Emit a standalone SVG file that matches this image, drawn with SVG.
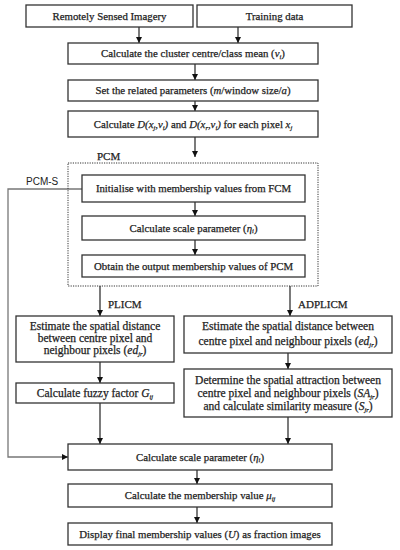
<svg xmlns="http://www.w3.org/2000/svg" width="400" height="550" viewBox="0 0 400 550">
<defs>
<marker id="ah" viewBox="0 0 10 10" refX="10" refY="5" markerWidth="6" markerHeight="6" markerUnits="userSpaceOnUse" orient="auto">
<path d="M0,0 L10,5 L0,10 z" fill="#111"/>
</marker>
<style>
.box{fill:#fff;stroke:#333;stroke-width:1.3}
.t{font-family:"Liberation Serif","Times New Roman",serif;font-size:10.8px;fill:#222;stroke:#222;stroke-width:0.25;text-anchor:middle}
.b{font-size:11.5px}
.l{font-family:"Liberation Serif","Times New Roman",serif;font-size:11px;fill:#222;stroke:#222;stroke-width:0.25}
.s{font-family:"Liberation Sans",Arial,sans-serif;font-size:10px;fill:#222}
.i{font-style:italic}
.sub{font-style:italic;font-size:6.5px}
.c{fill:none;stroke:#222;stroke-width:1.2}
.g{fill:none;stroke:#777;stroke-width:1.3}
</style>
</defs>
<rect width="400" height="550" fill="#fff"/>
<g id="connectors">
<line class="c" x1="139" y1="27" x2="139" y2="43" marker-end="url(#ah)"/>
<line class="c" x1="238" y1="27" x2="238" y2="43" marker-end="url(#ah)"/>
<line class="c" x1="195" y1="64" x2="195" y2="80" marker-end="url(#ah)"/>
<line class="c" x1="195" y1="101" x2="195" y2="111" marker-end="url(#ah)"/>
<line class="c" x1="195" y1="137" x2="195" y2="157" marker-end="url(#ah)"/>
<line class="c" x1="195" y1="202" x2="195" y2="216" marker-end="url(#ah)"/>
<line class="c" x1="195" y1="240" x2="195" y2="255" marker-end="url(#ah)"/>
<line class="c" x1="100" y1="286" x2="100" y2="316" marker-end="url(#ah)"/>
<line class="c" x1="290" y1="286" x2="290" y2="316" marker-end="url(#ah)"/>
<line class="c" x1="100" y1="362" x2="100" y2="383" marker-end="url(#ah)"/>
<line class="c" x1="288" y1="353" x2="288" y2="369" marker-end="url(#ah)"/>
<line class="c" x1="100" y1="403" x2="100" y2="444" marker-end="url(#ah)"/>
<line class="c" x1="288" y1="417" x2="288" y2="444" marker-end="url(#ah)"/>
<line class="c" x1="197" y1="470" x2="197" y2="484" marker-end="url(#ah)"/>
<line class="c" x1="197" y1="507" x2="197" y2="523" marker-end="url(#ah)"/>
<polyline class="g" points="82,189 8,189 8,457 68,457" marker-end="url(#ah)"/>
<text class="s" x="26" y="185">PCM-S</text>
<text class="l" x="108" y="308">PLICM</text>
<text class="l" x="298" y="308">ADPLICM</text>
</g>
<g id="pcm">
<rect x="68" y="163" width="250" height="123" fill="none" stroke="#333" stroke-width="1" stroke-dasharray="1.2,1.2"/>
<text class="l" x="97" y="160">PCM</text>
</g>
<g id="n1"><rect class="box" x="26" y="5" width="167" height="22"/><text class="t" x="109.5" y="19.5">Remotely Sensed Imagery</text></g>
<g id="n2"><rect class="box" x="197" y="5" width="155" height="22"/><text class="t" x="274.5" y="19.5">Training data</text></g>
<g id="n3"><rect class="box" x="68" y="43" width="250" height="21"/><text class="t" x="193" y="57">Calculate the cluster centre/class mean (<tspan class="i">v</tspan><tspan class="sub" dy="1.5">i</tspan><tspan dy="-1.5">)</tspan></text></g>
<g id="n4"><rect class="box" x="68" y="80" width="250" height="21"/><text class="t" x="193" y="94">Set the related parameters (<tspan class="i">m</tspan>/window size/<tspan class="i">a</tspan>)</text></g>
<g id="n5"><rect class="box" x="68" y="111" width="250" height="26"/><text class="t" x="193" y="128">Calculate <tspan class="i">D(x</tspan><tspan class="sub" dy="1.5">j</tspan><tspan class="i" dy="-1.5">,v</tspan><tspan class="sub" dy="1.5">i</tspan><tspan class="i" dy="-1.5">)</tspan> and <tspan class="i">D(x</tspan><tspan class="sub" dy="1.5">r</tspan><tspan class="i" dy="-1.5">,v</tspan><tspan class="sub" dy="1.5">i</tspan><tspan class="i" dy="-1.5">)</tspan> for each pixel <tspan class="i">x</tspan><tspan class="sub" dy="1.5">j</tspan></text></g>
<g id="n6"><rect class="box" x="82" y="175" width="223" height="27"/><text class="t" x="193.5" y="192">Initialise with membership values from FCM</text></g>
<g id="n7"><rect class="box" x="82" y="216" width="223" height="24"/><text class="t" x="193.5" y="231.5">Calculate scale parameter (<tspan class="i">η</tspan><tspan class="sub" dy="1.5">i</tspan><tspan dy="-1.5">)</tspan></text></g>
<g id="n8"><rect class="box" x="82" y="255" width="223" height="22"/><text class="t" x="193.5" y="269.5">Obtain the output membership values of PCM</text></g>
<g id="n9"><rect class="box" x="16" y="316" width="158" height="46"/>
<text class="t b" x="95" y="330">Estimate the spatial distance</text>
<text class="t b" x="95" y="342">between centre pixel and</text>
<text class="t b" x="95" y="354">neighbour pixels (<tspan class="i">ed</tspan><tspan class="sub" dy="1.5">jr</tspan><tspan dy="-1.5">)</tspan></text></g>
<g id="n10"><rect class="box" x="184" y="316" width="208" height="37"/>
<text class="t b" x="288" y="330">Estimate the spatial distance between</text>
<text class="t b" x="288" y="345">centre pixel and neighbour pixels (<tspan class="i">ed</tspan><tspan class="sub" dy="1.5">jr</tspan><tspan dy="-1.5">)</tspan></text></g>
<g id="n11"><rect class="box" x="16" y="383" width="158" height="20"/><text class="t b" x="95" y="397">Calculate fuzzy factor <tspan class="i">G</tspan><tspan class="sub" dy="1.5">ij</tspan></text></g>
<g id="n12"><rect class="box" x="184" y="369" width="208" height="48"/>
<text class="t b" x="288" y="384">Determine the spatial attraction between</text>
<text class="t b" x="288" y="397">centre pixel and neighbour pixels (<tspan class="i">SA</tspan><tspan class="sub" dy="1.5">jr</tspan><tspan dy="-1.5">)</tspan></text>
<text class="t b" x="288" y="410">and calculate similarity measure (<tspan class="i">S</tspan><tspan class="sub" dy="1.5">jr</tspan><tspan dy="-1.5">)</tspan></text></g>
<g id="n13"><rect class="box" x="68" y="444" width="264" height="26"/><text class="t" x="200" y="460.5">Calculate scale parameter (<tspan class="i">η</tspan><tspan class="sub" dy="1.5">i</tspan><tspan dy="-1.5">)</tspan></text></g>
<g id="n14"><rect class="box" x="68" y="484" width="264" height="23"/><text class="t" x="200" y="499">Calculate the membership value <tspan class="i">μ</tspan><tspan class="sub" dy="1.5">ij</tspan></text></g>
<g id="n15"><rect class="box" x="68" y="523" width="264" height="22"/><text class="t" x="200" y="537.5">Display final membership values (<tspan class="i">U</tspan>) as fraction images</text></g>
</svg>
